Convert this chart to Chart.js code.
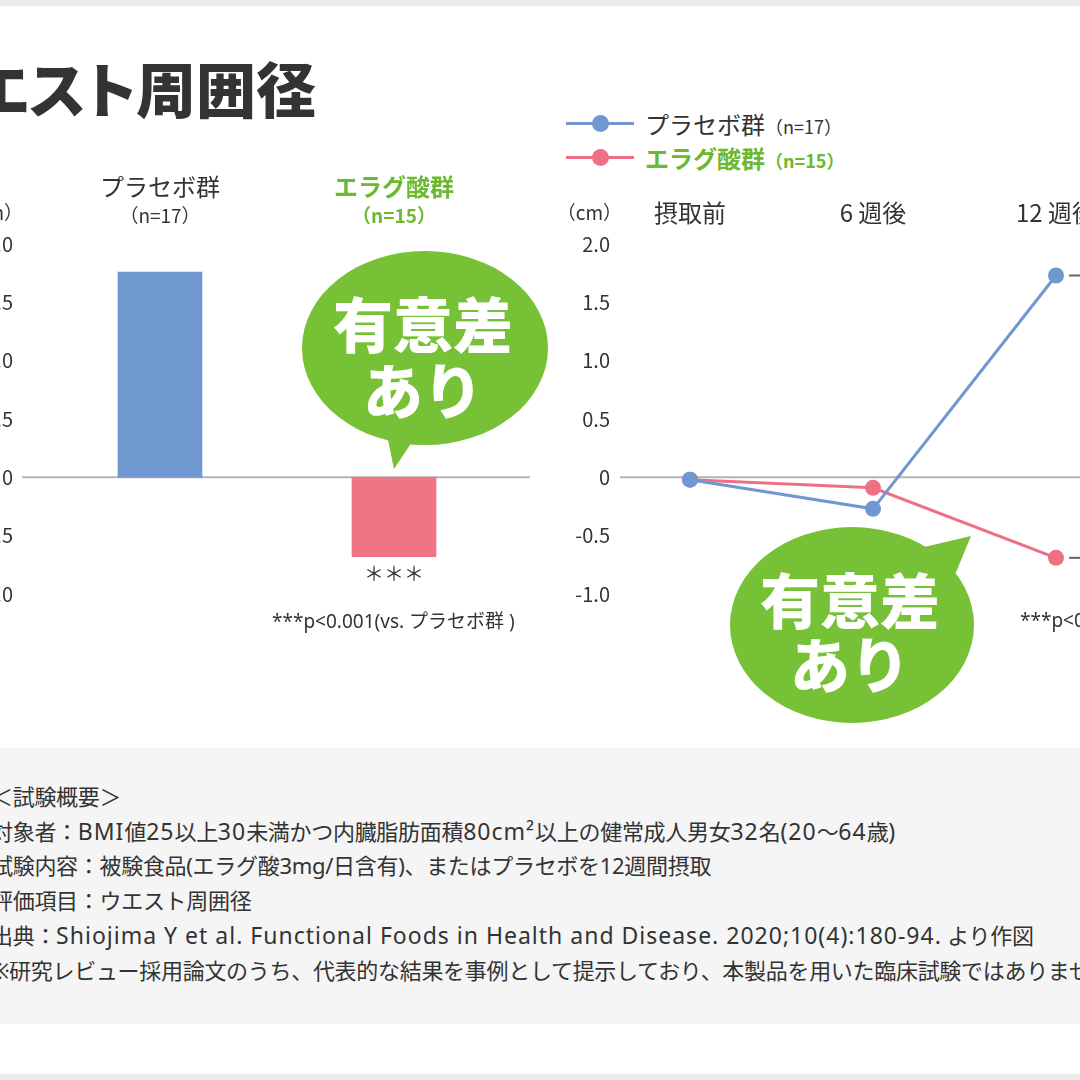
<!DOCTYPE html>
<html lang="ja">
<head>
<meta charset="utf-8">
<script src="https://cdn.jsdelivr.net/npm/chart.js@4.4.1/dist/chart.umd.min.js"></script>
<style>
  body { margin: 0; width: 1080px; height: 1080px; overflow: hidden; position: relative; background: #fff;
         font-family: "Noto Sans CJK JP", "Noto Sans", sans-serif; color: #333; }
  .band { position: absolute; left: 0; width: 1080px; background: #ebebeb; }
  #title { position: absolute; right: 764px; top: 52px; font-size: 60px; font-weight: 900; line-height: 70px;
           white-space: nowrap; font-feature-settings: "palt"; color: #333; }
  #notes { position: absolute; left: 0; top: 748px; width: 1080px; height: 276px; background: #f5f5f5; }
  #notes div { position: absolute; left: -9px; font-size: 22px; white-space: nowrap; color: #333; line-height: 30px;
               font-family: "Noto Sans", "Noto Sans CJK JP", sans-serif; letter-spacing: -0.3px; }
  #notes .l { font-size: 23px; letter-spacing: 1px; }
  .legend { position: absolute; left: 566px; height: 30px; white-space: nowrap; }
  .legend .ln { position: absolute; left: 0; top: 13px; width: 68px; height: 3px; }
  .legend .dot { position: absolute; left: 26px; top: 6px; width: 17px; height: 17px; border-radius: 50%; }
  .legend .tx { position: absolute; left: 79px; top: 0; line-height: 30px; font-size: 24px; }
  .legend .tx small { font-size: 18px; }
  canvas { position: absolute; }
  svg { position: absolute; left: 0; top: 0; }
</style>
</head>
<body>
<div class="band" style="top:0;height:6px"></div>
<div class="band" style="top:1074px;height:6px"></div>
<div id="title">ウエスト周囲径</div>

<div class="legend" style="top:109px">
  <div class="ln" style="background:#6f97d0"></div><div class="dot" style="background:#6f97d0"></div>
  <div class="tx">プラセボ群<small>（n=17）</small></div>
</div>
<div class="legend" style="top:143px">
  <div class="ln" style="background:#ef7085"></div><div class="dot" style="background:#ef7085"></div>
  <div class="tx" style="color:#6cb92f;font-weight:700">エラグ酸群<small>（n=15）</small></div>
</div>

<canvas id="barChart" width="600" height="500" style="left:-60px;top:150px"></canvas>
<canvas id="lineChart" width="540" height="540" style="left:540px;top:150px"></canvas>

<div id="notes">
  <div style="top:33px">＜試験概要＞</div>
  <div style="top:68px">対象者：<span class="l">BMI</span>値<span class="l">25</span>以上<span class="l">30</span>未満かつ内臓脂肪面積<span class="l">80cm²</span>以上の健常成人男女<span class="l">32</span>名<span class="l">(20</span>〜<span class="l">64</span>歳<span class="l">)</span></div>
  <div style="top:102px">試験内容：被験食品(エラグ酸3mg/日含有)、またはプラセボを12週間摂取</div>
  <div style="top:137px">評価項目：ウエスト周囲径</div>
  <div style="top:172px">出典：<span class="l">Shiojima Y et al. Functional Foods in Health and Disease. 2020;10(4):180-94.</span> より作図</div>
  <div style="top:207px">※研究レビュー採用論文のうち、代表的な結果を事例として提示しており、本製品を用いた臨床試験ではありません。</div>
</div>

<svg width="1080" height="1080">
  <g fill="#76c136">
    <ellipse cx="425" cy="348" rx="123" ry="97"/>
    <polygon points="386,430 394,469 416,436"/>
    <ellipse cx="852" cy="625" rx="122" ry="98"/>
    <polygon points="920,548 971,536 952,582"/>
  </g>
  <g fill="#fff" font-weight="900" font-size="60" text-anchor="middle" font-family="Noto Sans CJK JP">
    <text x="423" y="348">有意差</text>
    <text x="423" y="414">あり</text>
    <text x="850" y="624">有意差</text>
    <text x="850" y="688">あり</text>
  </g>
</svg>

<script>
// data
const barCategories = ['プラセボ群', 'エラグ酸群'];
const groupSizes = ['（n=17）', '（n=15）'];
const barValues = [1.76, -0.68];
const barColors = ['#6f97d0', '#f07386'];

const weekLabels = ['摂取前', '6 週後', '12 週後'];
const placeboValues = [-0.02, -0.27, 1.73];
const ellagicValues = [-0.02, -0.09, -0.69];

const yMin = -1.0;
const yMax = 2.0;
const yStep = 0.5;

const FONT = '"Noto Sans CJK JP", "Noto Sans", sans-serif';
const NOTE_FONT = '"Noto Sans", "Noto Sans CJK JP", sans-serif';
const GREEN = '#6cb92f';

function tickText(v) {
    return v === 0 ? '0' : v.toFixed(1);
}

function yScale(width, pad) {
    return {
        min: yMin,
        max: yMax,
        grid: { display: false },
        border: { display: false },
        ticks: {
            stepSize: yStep,
            padding: pad,
            color: '#333',
            font: { family: FONT, size: 20 },
            callback: tickText
        },
        afterFit: (s) => { s.width = width; }
    };
}

function zeroLine(ctx, chart, x0, x1) {
    const y = chart.scales.y.getPixelForValue(0);
    ctx.save();
    ctx.strokeStyle = '#b3b3b3';
    ctx.lineWidth = 2;
    ctx.beginPath();
    ctx.moveTo(x0, y);
    ctx.lineTo(x1, y);
    ctx.stroke();
    ctx.restore();
}

// Bar chart: change at 12 weeks
const barDecor = {
    id: 'barDecor',
    beforeDatasetsDraw(chart) {
        zeroLine(chart.ctx, chart, 82, 590);
    },
    afterDraw(chart) {
        const ctx = chart.ctx;
        const x = chart.scales.x;
        ctx.save();
        ctx.textAlign = 'right';
        ctx.textBaseline = 'middle';
        ctx.fillStyle = '#333';
        ctx.font = '19px ' + FONT;
        ctx.fillText('（cm）', 83, 63);
        ctx.textAlign = 'center';
        barCategories.forEach((c, i) => {
            const px = x.getPixelForValue(i);
            const hit = i === 1;
            ctx.fillStyle = hit ? GREEN : '#333';
            ctx.font = (hit ? 'bold ' : '') + '24px ' + FONT;
            ctx.fillText(c, px, 37);
            ctx.font = (hit ? 'bold ' : '') + '19px ' + FONT;
            ctx.fillText(groupSizes[i], px, 66);
        });
        // significance mark under the ellagic bar
        const bar = chart.getDatasetMeta(0).data[1];
        ctx.fillStyle = '#333';
        ctx.font = '20px ' + FONT;
        ctx.fillText('＊＊＊', bar.x, bar.y + 17);
        ctx.textAlign = 'left';
        ctx.font = '19px ' + NOTE_FONT;
        ctx.fillText('***p<0.001(vs. プラセボ群 )', 332, 473);
        ctx.restore();
    }
};

new Chart(document.getElementById('barChart').getContext('2d'), {
    type: 'bar',
    data: {
        labels: barCategories,
        datasets: [{
            data: barValues,
            backgroundColor: barColors,
            borderWidth: 0,
            barThickness: 84
        }]
    },
    options: {
        responsive: false,
        animation: false,
        layout: { padding: { left: 0, right: 29, top: 94, bottom: 56 } },
        plugins: { legend: { display: false }, tooltip: { enabled: false } },
        scales: {
            x: { display: false },
            y: yScale(103, 22)
        }
    },
    plugins: [barDecor]
});

// Line chart: time course
const lineDecor = {
    id: 'lineDecor',
    beforeDatasetsDraw(chart) {
        zeroLine(chart.ctx, chart, 80, 540);
    },
    afterDraw(chart) {
        const ctx = chart.ctx;
        const x = chart.scales.x;
        ctx.save();
        ctx.textBaseline = 'middle';
        ctx.fillStyle = '#333';
        ctx.textAlign = 'right';
        ctx.font = '19px ' + FONT;
        ctx.fillText('（cm）', 82, 63);
        ctx.textAlign = 'center';
        ctx.font = '24px ' + FONT;
        weekLabels.forEach((w, i) => {
            ctx.fillText(w, x.getPixelForValue(i), 63);
        });
        // leader dashes after last points
        ctx.strokeStyle = '#666';
        ctx.lineWidth = 2;
        [0, 1].forEach(d => {
            const pts = chart.getDatasetMeta(d).data;
            const p = pts[pts.length - 1];
            ctx.beginPath();
            ctx.moveTo(p.x + 13, p.y);
            ctx.lineTo(p.x + 40, p.y);
            ctx.stroke();
        });
        ctx.textAlign = 'left';
        ctx.font = '19px ' + NOTE_FONT;
        ctx.fillText('***p<0.001(vs. プラセボ群 )', 480, 472);
        ctx.restore();
    }
};

new Chart(document.getElementById('lineChart').getContext('2d'), {
    type: 'line',
    data: {
        labels: weekLabels,
        datasets: [
            {
                label: 'プラセボ群',
                data: placeboValues,
                borderColor: '#6f97d0',
                backgroundColor: '#6f97d0',
                pointBackgroundColor: '#6f97d0',
                pointBorderWidth: 0,
                pointRadius: 8,
                borderWidth: 3,
                tension: 0,
                clip: false
            },
            {
                label: 'エラグ酸群',
                data: ellagicValues,
                borderColor: '#ef7085',
                backgroundColor: '#ef7085',
                pointBackgroundColor: '#ef7085',
                pointBorderWidth: 0,
                pointRadius: 8,
                borderWidth: 3,
                tension: 0,
                clip: false
            }
        ]
    },
    options: {
        responsive: false,
        animation: false,
        layout: { padding: { left: 0, right: 24, top: 94, bottom: 96 } },
        plugins: { legend: { display: false }, tooltip: { enabled: false } },
        scales: {
            x: { display: false, offset: false },
            y: yScale(150, 72)
        }
    },
    plugins: [lineDecor]
});
</script>
</body>
</html>
